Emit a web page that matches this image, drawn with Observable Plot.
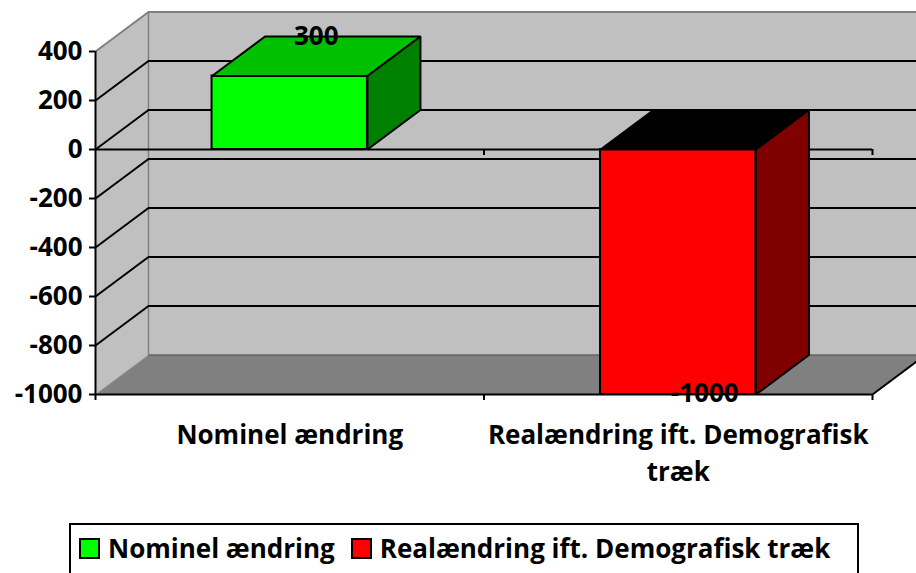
<!DOCTYPE html>
<html>
<head>
<meta charset="utf-8">
<script src="https://cdn.jsdelivr.net/npm/d3@7"></script>
<script src="https://cdn.jsdelivr.net/npm/@observablehq/plot@0.6"></script>
<style>
  html, body { margin: 0; padding: 0; background: #fff; overflow: hidden; width: 916px; height: 573px; }
  #chart { position: absolute; left: 0; top: 0; }
  #legend {
    position: absolute; left: 69px; top: 523px; width: 790px; height: 70px;
    box-sizing: border-box; border: 2px solid #000; background: #fff;
    display: flex; align-items: flex-start; padding: 5px 0 0 8px;
    font-family: "Open Sans", sans-serif; font-weight: bold; font-size: 26px; color: #000;
  }
  #legend .item { display: flex; align-items: center; margin-right: 16px; white-space: nowrap; }
  #legend .sw { display: inline-block; width: 21px; height: 21px; box-sizing: border-box; border: 2px solid #000; margin-right: 8px; }
</style>
</head>
<body>
<div id="chart"></div>
<div id="legend"></div>
<script>
// ---- data ----
const categories = ["Nominel ændring", "Realændring ift. Demografisk træk"];
const axisLabels = ["Nominel ændring", "Realændring ift. Demografisk\ntræk"];
const values = [300, -1000];
const valueLabels = ["300", "-1000"];
const frontColors = ["#00ff00", "#ff0000"];
const topColors = ["#00c000", "#000000"];
const sideColors = ["#008000", "#800000"];
const yTicks = [400, 200, 0, -200, -400, -600, -800, -1000];

// ---- oblique projection (depth expressed in scale units) ----
const DX = 0.1364;   // depth along x, in category units
const DV = 161.2;    // depth along y, in value units
const BAR = 0.4;     // bar width fraction of a category
const yMin = -1000, yMax = 400;
const nCat = categories.length;
const FONT = "Open Sans";

const bars = categories.map((c, i) => ({
  c, i, v: values[i], label: valueLabels[i], axis: axisLabels[i],
  hi: Math.max(values[i], 0), lo: Math.min(values[i], 0),
  x0: i + (1 - BAR) / 2, x1: i + (1 + BAR) / 2,
  front: frontColors[i], top: topColors[i], side: sideColors[i]
}));

const poly = (pts, fill, stroke = "black", strokeWidth = 2) =>
  Plot.line([...pts, pts[0]], {x: d => d[0], y: d => d[1], fill, stroke, strokeWidth, strokeLinejoin: "miter"});

const inner = yTicks.filter(v => v > yMin && v < yMax);
const W = nCat + DX;

const marks = [
  // side wall
  poly([[0, yMax], [DX, yMax + DV], [DX, yMin + DV], [0, yMin]], "#c0c0c0", "none"),
  // back wall
  Plot.rect([0], {x1: DX, x2: W, y1: yMin + DV, y2: yMax + DV, fill: "#c0c0c0"}),
  // floor
  poly([[0, yMin], [DX, yMin + DV], [W, yMin + DV], [nCat, yMin]], "#808080", "none"),
  // wall edges
  Plot.ruleY([yMax + DV], {x1: DX, x2: W, stroke: "#808080", strokeWidth: 2}),
  Plot.link([0], {x1: 0, y1: yMax, x2: DX, y2: yMax + DV, stroke: "#808080", strokeWidth: 2}),
  Plot.ruleX([DX], {y1: yMin + DV, y2: yMax + DV, stroke: "#808080", strokeWidth: 1.5}),
  Plot.ruleY([yMin + DV], {x1: DX, x2: W, stroke: "#5f5f5f", strokeWidth: 1.5}),
  Plot.link([0], {x1: 0, y1: yMin, x2: DX, y2: yMin + DV, stroke: "#9a9a9a", strokeWidth: 1}),
  // gridlines on back wall and side wall
  Plot.ruleY(inner, {y: d => d + DV, x1: DX, x2: W, stroke: "black", strokeWidth: 2}),
  Plot.link(inner, {x1: 0, y1: d => d, x2: DX, y2: d => d + DV, stroke: "black", strokeWidth: 2}),
  // category axis at zero
  Plot.ruleY([0], {x1: 0, x2: nCat, stroke: "black", strokeWidth: 2}),
  Plot.ruleX(d3.range(1, nCat + 1), {y1: 0, y2: 0, insetBottom: -6, stroke: "black", strokeWidth: 2}),
  // floor front edge
  Plot.ruleY([yMin], {x1: 0, x2: nCat, stroke: "black", strokeWidth: 2}),
  Plot.ruleX(d3.range(0, nCat + 1), {y1: yMin, y2: yMin, insetBottom: -6, stroke: "black", strokeWidth: 2}),
  Plot.link([0], {x1: nCat, y1: yMin, x2: W, y2: yMin + DV, stroke: "black", strokeWidth: 2}),
  // bars: front faces
  Plot.rect(bars, {x1: "x0", x2: "x1", y1: 0, y2: "v", fill: "front", stroke: "black", strokeWidth: 2}),
  // bars: top and side faces
  ...bars.flatMap(b => [
    poly([[b.x0, b.hi], [b.x0 + DX, b.hi + DV], [b.x1 + DX, b.hi + DV], [b.x1, b.hi]], b.top),
    poly([[b.x1, b.hi], [b.x1 + DX, b.hi + DV], [b.x1 + DX, b.lo + DV], [b.x1, b.lo]], b.side)
  ]),
  // y axis
  Plot.ruleX([0], {y1: yMin, y2: yMax, stroke: "black", strokeWidth: 2}),
  Plot.axisY({ticks: yTicks, tickSize: 6, tickPadding: 7, strokeWidth: 2, color: "black",
    fontSize: 26, fontWeight: "bold", fontFamily: FONT, label: null, tickFormat: d => String(d)}),
  // data labels
  Plot.text(bars.filter(b => b.v >= 0), {x: b => b.i + 0.5 + DX / 2, y: b => b.v + DV / 2, text: "label", dy: -20,
    fontSize: 26, fontWeight: "bold", fontFamily: FONT, fill: "black"}),
  Plot.text(bars.filter(b => b.v < 0), {x: b => b.i + 0.5 + DX / 2, y: b => b.v + DV / 2, text: "label", dy: 19,
    fontSize: 26, fontWeight: "bold", fontFamily: FONT, fill: "black"}),
  // category labels
  Plot.text(bars, {x: b => b.i + 0.5, y: yMin, text: "axis", dy: 22.5, lineAnchor: "top", lineHeight: 1.45,
    fontSize: 26, fontWeight: "bold", fontFamily: FONT, fill: "black"})
];

const H = 505;
const chart = Plot.plot({
  width: 916,
  height: H,
  marginLeft: 95,
  marginRight: 44,
  marginTop: 0,
  marginBottom: H - 394,
  x: {domain: [0, nCat], axis: null},
  y: {domain: [yMin, yMax], range: [394, 51]},
  color: {type: "identity"},
  style: {background: "white", overflow: "hidden"},
  marks
});
document.getElementById("chart").appendChild(chart);

// legend
const legend = d3.select("#legend");
categories.forEach((c, i) => {
  const item = legend.append("span").attr("class", "item");
  item.append("span").attr("class", "sw").style("background", frontColors[i]);
  item.append("span").text(c);
});
</script>
</body>
</html>
